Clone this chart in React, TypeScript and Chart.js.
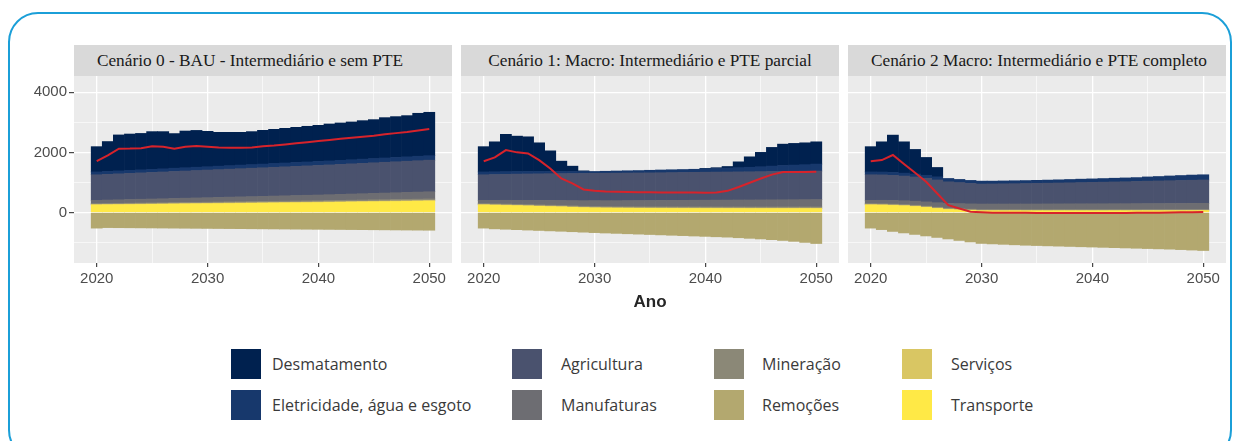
import React, { useEffect, useRef } from "react";
import { Chart, registerables } from "chart.js";

Chart.register(...registerables);

// ---------- data ----------
const years = [2020, 2021, 2022, 2023, 2024, 2025, 2026, 2027, 2028, 2029, 2030, 2031, 2032, 2033, 2034, 2035, 2036, 2037, 2038, 2039, 2040, 2041, 2042, 2043, 2044, 2045, 2046, 2047, 2048, 2049, 2050];

const xGridValues = [2020, 2025, 2030, 2035, 2040, 2045, 2050];
const xTickLabels = [2020, 2030, 2040, 2050];
const yGridValues = [-1000, 0, 1000, 2000, 3000, 4000];
const yTickLabels = [0, 2000, 4000];

const panelTitles = [
  "Cenário 0 - BAU - Intermediário e sem PTE",
  "Cenário 1: Macro: Intermediário e PTE parcial",
  "Cenário 2 Macro: Intermediário e PTE completo",
];

const seriesNames = [
  "Desmatamento",
  "Eletricidade, água e esgoto",
  "Agricultura",
  "Manufaturas",
  "Mineração",
  "Remoções",
  "Serviços",
  "Transporte",
];
const seriesColors = ["#00214f", "#17386c", "#4a526e", "#6d6d72", "#8b8877", "#b3a86f", "#d9c663", "#ffe946"];
const netName = "Emissões líquidas";
const netColor = "#d7232b";

// Cenário 0 - BAU
const des0 = [840, 992, 1195, 1208, 1210, 1253, 1236, 1152, 1220, 1224, 1176, 1126, 1108, 1090, 1097, 1123, 1139, 1154, 1170, 1186, 1203, 1228, 1242, 1255, 1280, 1295, 1342, 1357, 1370, 1429, 1443];
const ele0 = [95, 97, 99, 100, 102, 104, 106, 108, 110, 111, 113, 115, 117, 119, 120, 122, 124, 126, 128, 130, 131, 133, 135, 137, 139, 140, 142, 144, 146, 148, 150];
const agr0 = [850, 857, 864, 870, 877, 884, 890, 897, 904, 910, 917, 924, 930, 937, 944, 950, 957, 964, 970, 977, 984, 990, 997, 1004, 1010, 1017, 1024, 1030, 1037, 1044, 1050];
const man0 = [110, 114, 118, 122, 126, 130, 134, 138, 142, 146, 150, 154, 158, 162, 166, 170, 174, 178, 182, 186, 190, 195, 200, 205, 210, 215, 220, 225, 230, 235, 240];
const min0 = [30, 31, 31, 32, 33, 33, 34, 35, 35, 36, 37, 37, 38, 39, 39, 40, 41, 41, 42, 43, 43, 44, 45, 45, 46, 47, 47, 48, 49, 49, 50];
const rem0 = [-520, -503, -506, -509, -512, -515, -518, -521, -524, -527, -530, -533, -536, -539, -542, -545, -548, -551, -554, -557, -560, -563, -566, -569, -572, -575, -578, -581, -584, -587, -590];
const ser0 = [15, 15, 15, 16, 16, 16, 16, 17, 17, 17, 17, 17, 18, 18, 18, 18, 18, 19, 19, 19, 19, 19, 19, 20, 20, 20, 20, 20, 20, 20, 20];
const tra0 = [250, 254, 258, 262, 266, 270, 274, 278, 282, 286, 290, 294, 298, 302, 306, 310, 314, 318, 322, 326, 330, 335, 340, 345, 350, 355, 360, 365, 370, 375, 380];
const net0 = [1705, 1900, 2120, 2125, 2140, 2200, 2190, 2120, 2190, 2215, 2190, 2160, 2155, 2150, 2165, 2205, 2230, 2265, 2300, 2340, 2380, 2415, 2450, 2485, 2520, 2555, 2600, 2640, 2680, 2730, 2778];

// Cenário 1 - PTE parcial
const des1 = [840, 996, 1240, 1177, 1153, 952, 684, 342, 177, 22, 0, 0, 0, 0, 0, 0, 0, 0, 0, 0, 15, 26, 53, 193, 347, 476, 622, 711, 721, 727, 741];
const ele1 = [95, 92, 89, 86, 83, 80, 76, 72, 68, 64, 60, 66, 72, 76, 80, 86, 91, 95, 99, 102, 110, 120, 130, 140, 150, 165, 180, 195, 205, 215, 230];
const agr1 = [850, 858, 865, 872, 878, 884, 890, 895, 900, 905, 910, 912, 914, 916, 918, 920, 922, 924, 926, 928, 930, 932, 934, 936, 938, 940, 942, 944, 946, 948, 950];
const man1 = [110, 118, 126, 134, 142, 150, 158, 166, 175, 185, 195, 198, 201, 204, 207, 210, 213, 216, 219, 222, 225, 227, 229, 231, 233, 235, 237, 239, 241, 243, 245];
const min1 = [30, 30, 31, 31, 32, 32, 33, 33, 34, 34, 35, 35, 35, 36, 36, 36, 37, 37, 37, 38, 38, 38, 38, 39, 39, 39, 39, 40, 40, 40, 40];
const rem1 = [-520, -545, -558, -572, -585, -598, -612, -625, -640, -655, -670, -683, -695, -708, -720, -733, -745, -758, -770, -783, -795, -808, -820, -840, -860, -880, -905, -930, -960, -995, -1033];
const ser1 = [15, 15, 15, 15, 15, 15, 15, 15, 15, 15, 15, 15, 15, 15, 15, 15, 15, 15, 15, 15, 15, 15, 15, 15, 15, 15, 15, 15, 15, 15, 15];
const tra1 = [250, 242, 234, 225, 215, 205, 195, 185, 172, 160, 150, 146, 143, 141, 139, 137, 136, 135, 134, 133, 132, 132, 131, 131, 130, 130, 130, 130, 130, 130, 130];
const net1 = [1705, 1832, 2075, 2000, 1965, 1742, 1465, 1132, 966, 766, 722, 700, 690, 680, 675, 670, 668, 667, 667, 663, 660, 665, 720, 850, 990, 1130, 1260, 1345, 1350, 1350, 1352];

// Cenário 2 - PTE completo
const des2 = [840, 1005, 1242, 1042, 818, 593, 311, 0, 0, 0, 0, 0, 0, 0, 0, 0, 0, 0, 0, 0, 0, 0, 0, 0, 0, 0, 0, 0, 0, 0, 0];
const ele2 = [95, 95, 96, 97, 98, 100, 105, 112, 105, 100, 97, 94, 96, 97, 99, 101, 103, 105, 110, 114, 116, 120, 123, 126, 128, 140, 147, 157, 165, 172, 174];
const agr2 = [850, 845, 835, 820, 805, 785, 755, 720, 700, 680, 666, 668, 672, 676, 680, 685, 690, 695, 700, 706, 712, 718, 724, 730, 738, 746, 752, 758, 764, 770, 776];
const man2 = [110, 116, 122, 128, 134, 140, 150, 158, 168, 176, 185, 186, 187, 188, 189, 190, 191, 192, 193, 194, 195, 196, 197, 198, 199, 200, 201, 202, 203, 204, 205];
const min2 = [30, 30, 30, 30, 30, 30, 30, 30, 30, 30, 30, 30, 30, 30, 30, 30, 30, 30, 30, 30, 30, 30, 30, 30, 30, 30, 30, 30, 30, 30, 30];
const rem2 = [-520, -570, -630, -680, -730, -780, -830, -880, -930, -980, -1030, -1045, -1060, -1075, -1090, -1100, -1110, -1120, -1130, -1140, -1150, -1160, -1170, -1180, -1190, -1200, -1210, -1220, -1235, -1250, -1265];
const ser2 = [15, 15, 14, 14, 13, 13, 12, 12, 12, 11, 11, 11, 11, 11, 10, 10, 10, 10, 10, 10, 10, 10, 10, 10, 10, 10, 10, 10, 10, 10, 10];
const tra2 = [250, 245, 235, 220, 200, 170, 135, 100, 85, 70, 55, 55, 54, 54, 54, 54, 54, 55, 55, 55, 55, 55, 56, 56, 56, 57, 57, 58, 58, 59, 60];
const net2 = [1705, 1744, 1911, 1611, 1322, 1022, 633, 244, 133, 22, 5, -5, -8, -10, -12, -15, -15, -15, -15, -15, -15, -15, -15, -15, -10, -10, -5, 0, 5, 10, 20];

// series in legend order: Desmatamento, Eletricidade, Agricultura, Manufaturas, Mineração, Remoções, Serviços, Transporte
const panelSeries = [
  [des0, ele0, agr0, man0, min0, rem0, ser0, tra0],
  [des1, ele1, agr1, man1, min1, rem1, ser1, tra1],
  [des2, ele2, agr2, man2, min2, rem2, ser2, tra2],
];
const panelNet = [net0, net1, net2];

// ---------- layout ----------
const X_MIN = 2017.95;
const X_MAX = 2052.05;
const Y_MIN = -1680;
const Y_MAX = 4540;
const PANEL_LEFTS = [74, 461, 848];
const STRIP_TEXT_SHIFT = [-13, 0, 2];
const PANEL_W = 378;
const STRIP_TOP = 45;
const STRIP_H = 31;
const PLOT_TOP = 76;
const PLOT_H = 187;
const Y_AXIS_W = 74;
const X_AXIS_H = 34;
const TICK_FONT = { family: "'Liberation Sans', Arial, sans-serif", size: 15 };

const bgPlugin = {
  id: "panelBg",
  beforeDraw(chart: any) {
    const { ctx, chartArea: a } = chart;
    ctx.save();
    ctx.fillStyle = "#ebebeb";
    ctx.fillRect(a.left, a.top, a.right - a.left, a.bottom - a.top);
    ctx.restore();
  },
};

// stacking order bottom -> top for positives: Transporte, Serviços, Mineração, Manufaturas, Agricultura, Eletricidade, Desmatamento
const STACK_ORDER = [7, 6, 4, 3, 2, 1, 0, 5];

const tickVal = (c: any): number | null => (c && c.tick && typeof c.tick.value === "number" ? c.tick.value : null);

function Panel({ index }: { index: number }) {
  const ref = useRef<HTMLCanvasElement | null>(null);
  const showY = index === 0;
  const yw = showY ? Y_AXIS_W : 0;
  const width = yw + PANEL_W;
  const height = PLOT_H + X_AXIS_H;
  const left = PANEL_LEFTS[index] - yw;

  useEffect(() => {
    const series = panelSeries[index];
    const barSets = STACK_ORDER.map((si) => ({
      type: "bar" as const,
      label: seriesNames[si],
      data: series[si].map((v, i) => ({ x: years[i], y: v === 0 ? null : v })),
      backgroundColor: seriesColors[si],
      borderWidth: 0,
      barPercentage: 1,
      categoryPercentage: 1,
      stack: "emissoes",
      order: 1,
    }));
    const lineSet = {
      type: "line" as const,
      label: netName,
      data: panelNet[index].map((v, i) => ({ x: years[i], y: v })),
      borderColor: netColor,
      backgroundColor: netColor,
      borderWidth: 2,
      pointRadius: 0,
      tension: 0,
      fill: false,
      stack: "liquido",
      order: 0,
    };
    const isMajorX = (c: any) => {
      const v = tickVal(c);
      return v !== null && xTickLabels.includes(v);
    };
    const isMajorY = (c: any) => {
      const v = tickVal(c);
      return v !== null && yTickLabels.includes(v);
    };
    const chart = new Chart(ref.current as HTMLCanvasElement, {
      type: "bar",
      data: { datasets: [...barSets, lineSet] as any },
      options: {
        responsive: false,
        animation: false,
        devicePixelRatio: 1,
        layout: { padding: 0 },
        plugins: { legend: { display: false }, tooltip: { enabled: false }, title: { display: false } },
        scales: {
          x: {
            type: "linear",
            min: X_MIN,
            max: X_MAX,
            stacked: true,
            offset: false,
            border: { display: false },
            grid: {
              offset: false,
              color: "#ffffff",
              lineWidth: (c: any) => (isMajorX(c) ? 1.3 : 0.6),
              drawTicks: true,
              tickLength: 4,
              tickWidth: 1.1,
              tickColor: (c: any) => (isMajorX(c) ? "#333333" : "rgba(0,0,0,0)"),
            },
            ticks: {
              autoSkip: false,
              maxRotation: 0,
              minRotation: 0,
              padding: 3,
              color: "#4d4d4d",
              font: TICK_FONT,
              callback: (v: any) => (xTickLabels.includes(Number(v)) ? String(v) : ""),
            },
            afterBuildTicks: (s: any) => {
              s.ticks = xGridValues.map((v) => ({ value: v }));
            },
            afterFit: (s: any) => {
              s.height = X_AXIS_H;
              s.paddingLeft = 0;
              s.paddingRight = 0;
            },
          },
          y: {
            type: "linear",
            min: Y_MIN,
            max: Y_MAX,
            stacked: true,
            border: { display: false },
            grid: {
              offset: false,
              color: "#ffffff",
              lineWidth: (c: any) => (isMajorY(c) ? 1.3 : 0.6),
              drawTicks: showY,
              tickLength: 5,
              tickWidth: 1.1,
              tickColor: (c: any) => (isMajorY(c) ? "#333333" : "rgba(0,0,0,0)"),
            },
            ticks: {
              display: showY,
              autoSkip: false,
              padding: 2,
              color: "#4d4d4d",
              font: TICK_FONT,
              callback: (v: any) => (yTickLabels.includes(Number(v)) ? String(v) : ""),
            },
            afterBuildTicks: (s: any) => {
              s.ticks = yGridValues.map((v) => ({ value: v }));
            },
            afterFit: (s: any) => {
              s.width = yw;
              s.paddingTop = 0;
              s.paddingBottom = 0;
            },
          },
        },
      },
      plugins: [bgPlugin],
    } as any);
    return () => chart.destroy();
  }, [index]);

  const shift = STRIP_TEXT_SHIFT[index];
  return (
    <>
      <div
        style={{
          position: "absolute",
          left: PANEL_LEFTS[index],
          top: STRIP_TOP,
          width: PANEL_W,
          height: STRIP_H,
          background: "#d9d9d9",
          color: "#1a1a1a",
          fontFamily: "'Liberation Serif', 'Times New Roman', serif",
          fontSize: 17.3,
          lineHeight: STRIP_H + 1 + "px",
          textAlign: "center",
          whiteSpace: "nowrap",
          boxSizing: "border-box",
          paddingLeft: shift > 0 ? 2 * shift : 0,
          paddingRight: shift < 0 ? -2 * shift : 0,
        }}
      >
        {panelTitles[index]}
      </div>
      <canvas
        ref={ref}
        width={width}
        height={height}
        style={{ position: "absolute", left, top: PLOT_TOP, width, height }}
      />
    </>
  );
}

const LEGEND_COLS = [
  { sq: 231, tx: 272 },
  { sq: 512, tx: 561 },
  { sq: 714, tx: 762 },
  { sq: 902, tx: 951 },
];
const LEGEND_ROWS = [349, 390];

export default function App() {
  return (
    <div
      style={{
        position: "absolute",
        left: 0,
        top: 0,
        width: 1240,
        height: 441,
        background: "#ffffff",
        overflow: "hidden",
      }}
    >
      <div
        style={{
          position: "absolute",
          left: 8,
          top: 12,
          width: 1224,
          height: 448,
          border: "2px solid #1b9fd8",
          borderRadius: 30,
          boxSizing: "border-box",
        }}
      />
      {[0, 1, 2].map((i) => (
        <Panel key={i} index={i} />
      ))}
      <div
        style={{
          position: "absolute",
          left: 600,
          top: 291,
          width: 100,
          height: 22,
          lineHeight: "22px",
          textAlign: "center",
          fontFamily: "'Liberation Sans', Arial, sans-serif",
          fontWeight: "bold",
          fontSize: 17,
          color: "#262626",
        }}
      >
        Ano
      </div>
      {seriesNames.map((name, i) => {
        const col = LEGEND_COLS[Math.floor(i / 2)];
        const row = LEGEND_ROWS[i % 2];
        return (
          <React.Fragment key={name}>
            <div
              style={{
                position: "absolute",
                left: col.sq,
                top: row,
                width: 30,
                height: 30,
                background: seriesColors[i],
              }}
            />
            <div
              style={{
                position: "absolute",
                left: col.tx,
                top: row,
                height: 30,
                lineHeight: "30px",
                fontFamily: "'Open Sans', 'Noto Sans', sans-serif",
                fontSize: 16,
                color: "#3a3a3a",
                whiteSpace: "nowrap",
              }}
            >
              {name}
            </div>
          </React.Fragment>
        );
      })}
    </div>
  );
}
